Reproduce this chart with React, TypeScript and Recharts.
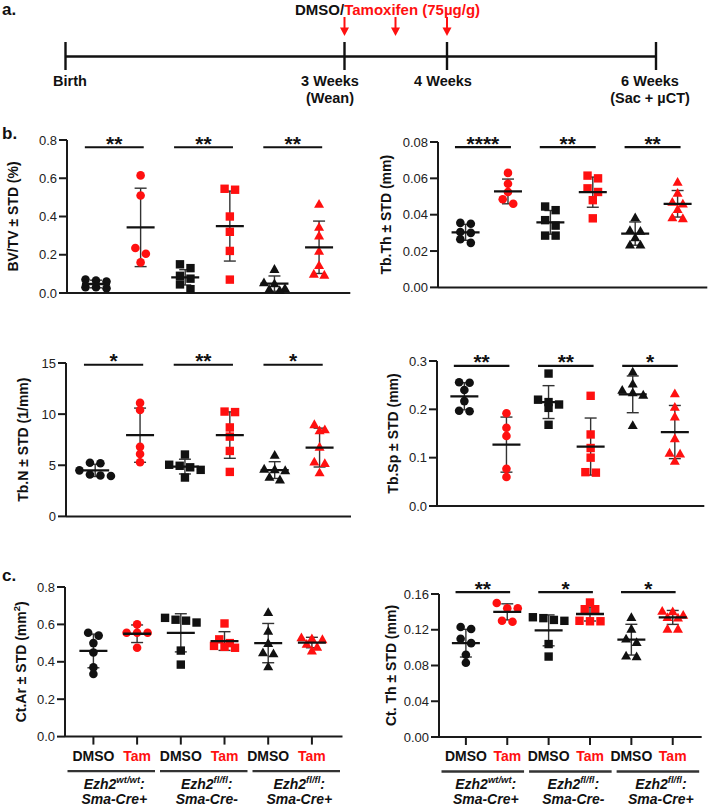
import React from 'react'
import { ScatterChart, Scatter, XAxis, YAxis, ErrorBar, ReferenceLine } from 'recharts'

const FONT = '"Liberation Sans", Arial, Helvetica, sans-serif'
const RED = '#ff1010'
const INK = '#111111'
const GREY = '#333333'

// group order: wt DMSO, wt Tam, fl/fl Cre- DMSO, fl/fl Cre- Tam, fl/fl Cre+ DMSO, fl/fl Cre+ Tam
const treatments = ['DMSO', 'Tam', 'DMSO', 'Tam', 'DMSO', 'Tam']
const genotypes = ['wt/wt', 'fl/fl', 'fl/fl']
const creLines = ['Sma-Cre+', 'Sma-Cre-', 'Sma-Cre+']
const markerKinds = ['circle', 'circle', 'square', 'square', 'triangle', 'triangle']
const markerColors = [INK, RED, INK, RED, INK, RED]

// BV/TV (%)
const bvtvGroups = [
  [0.07, 0.065, 0.06, 0.03, 0.03, 0.025],
  [0.615, 0.51, 0.235, 0.205, 0.16],
  [0.15, 0.13, 0.09, 0.075, 0.045, 0.02],
  [0.545, 0.54, 0.4, 0.32, 0.22, 0.07],
  [0.125, 0.055, 0.05, 0.025, 0.02, 0.015],
  [0.465, 0.345, 0.3, 0.22, 0.145, 0.1, 0.095],
]
const bvtvMean = [0.047, 0.343, 0.082, 0.35, 0.049, 0.239]
const bvtvSd = [0.02, 0.205, 0.04, 0.183, 0.04, 0.137]
const bvtvStars = ['**', '**', '**']

// Tb.Th (mm)
const tbthGroups = [
  [0.0355, 0.035, 0.0305, 0.03, 0.0265, 0.0245],
  [0.063, 0.057, 0.0525, 0.0485, 0.046],
  [0.0445, 0.0425, 0.037, 0.034, 0.0285, 0.0285],
  [0.0615, 0.06, 0.0545, 0.0525, 0.048, 0.038],
  [0.0385, 0.0315, 0.031, 0.0275, 0.0235, 0.0235],
  [0.058, 0.052, 0.047, 0.046, 0.043, 0.0385, 0.038],
]
const tbthMean = [0.0303, 0.0528, 0.0358, 0.0524, 0.0296, 0.046]
const tbthSd = [0.0044, 0.0068, 0.0065, 0.0083, 0.0064, 0.0073]
const tbthStars = ['****', '**', '**']

// Tb.N (1/mm)
const tbnGroups = [
  [5.25, 5.2, 4.5, 4.1, 4.0, 3.95],
  [11.1, 10.4, 6.8, 6.1, 5.3],
  [6.05, 5.05, 4.95, 4.8, 4.55, 3.8],
  [10.25, 10.2, 8.7, 7.8, 6.4, 4.35],
  [6.0, 4.65, 4.6, 4.5, 3.85, 3.6],
  [9.0, 8.5, 8.4, 6.8, 5.35, 5.2, 4.3],
]
const tbnMean = [4.5, 7.94, 4.87, 7.95, 4.53, 6.73]
const tbnSd = [0.6, 2.65, 0.72, 2.27, 0.82, 1.9]
const tbnStars = ['*', '**', '*']

// Tb.Sp (mm)
const tbspGroups = [
  [0.256, 0.255, 0.24, 0.217, 0.197, 0.196],
  [0.192, 0.162, 0.145, 0.077, 0.06],
  [0.274, 0.22, 0.215, 0.21, 0.203, 0.168],
  [0.228, 0.148, 0.12, 0.1, 0.07, 0.069],
  [0.278, 0.253, 0.24, 0.235, 0.23, 0.167],
  [0.233, 0.205, 0.185, 0.14, 0.11, 0.108, 0.093],
]
const tbspMean = [0.227, 0.127, 0.215, 0.123, 0.231, 0.153]
const tbspSd = [0.028, 0.057, 0.034, 0.059, 0.038, 0.055]
const tbspStars = ['**', '**', '*']

// Ct.Ar (mm2)
const ctarGroups = [
  [0.555, 0.54, 0.5, 0.45, 0.37, 0.335],
  [0.6, 0.555, 0.555, 0.555, 0.475],
  [0.635, 0.625, 0.62, 0.61, 0.46, 0.385],
  [0.605, 0.52, 0.5, 0.485, 0.48, 0.475],
  [0.665, 0.565, 0.5, 0.45, 0.445, 0.375],
  [0.53, 0.525, 0.52, 0.495, 0.48, 0.46],
]
const ctarMean = [0.458, 0.55, 0.555, 0.511, 0.5, 0.503]
const ctarSd = [0.09, 0.047, 0.102, 0.05, 0.105, 0.028]

// Ct.Th (mm)
const ctthGroups = [
  [0.1231, 0.1208, 0.11, 0.105, 0.092, 0.083],
  [0.15, 0.144, 0.144, 0.13, 0.129],
  [0.134, 0.133, 0.131, 0.13, 0.104, 0.09],
  [0.1505, 0.143, 0.143, 0.13, 0.1295, 0.1295],
  [0.134, 0.121, 0.11, 0.106, 0.091, 0.09],
  [0.141, 0.1405, 0.1365, 0.134, 0.1335, 0.121, 0.121],
]
const ctthMean = [0.105, 0.14, 0.1193, 0.1376, 0.1089, 0.1338]
const ctthSd = [0.0155, 0.009, 0.0173, 0.0078, 0.0172, 0.0078]
const ctthStars = ['**', '*', '*']

const X_DOMAIN: [number, number] = [0.35, 6.7]
const X_TICKS = [1, 2, 3, 4, 5, 6]
const SWARM_STEP = 10.5
const SWARM_ROW = 6

type Panel = {
  title: string
  sup?: string
  groups: number[][]
  means: number[]
  sds: number[]
  stars: string[] | null
  yMax: number
  yTicks: number[]
  digits: number
  x0: number
  x1: number
  yTop: number
  yBot: number
  titleX: number
  barY: number
  bottom: boolean
}

const panels: Panel[] = [
  { title: 'BV/TV ± STD (%)', groups: bvtvGroups, means: bvtvMean, sds: bvtvSd, stars: bvtvStars,
    yMax: 0.8, yTicks: [0, 0.2, 0.4, 0.6, 0.8], digits: 1,
    x0: 66.7, x1: 350, yTop: 140, yBot: 293, titleX: 12.5, barY: 0.762, bottom: false },
  { title: 'Tb.Th ± STD (mm)', groups: tbthGroups, means: tbthMean, sds: tbthSd, stars: tbthStars,
    yMax: 0.08, yTicks: [0, 0.02, 0.04, 0.06, 0.08], digits: 2,
    x0: 437.7, x1: 707, yTop: 142.3, yBot: 287.7, titleX: 385.5, barY: 0.0772, bottom: false },
  { title: 'Tb.N ± STD (1/mm)', groups: tbnGroups, means: tbnMean, sds: tbnSd, stars: tbnStars,
    yMax: 15, yTicks: [0, 5, 10, 15], digits: 0,
    x0: 66, x1: 351, yTop: 363.3, yBot: 516.7, titleX: 23.3, barY: 14.83, bottom: false },
  { title: 'Tb.Sp ± STD (mm)', groups: tbspGroups, means: tbspMean, sds: tbspSd, stars: tbspStars,
    yMax: 0.3, yTicks: [0, 0.1, 0.2, 0.3], digits: 1,
    x0: 436.7, x1: 704, yTop: 361, yBot: 506, titleX: 393, barY: 0.29, bottom: false },
  { title: 'Ct.Ar ± STD (mm', sup: '2', groups: ctarGroups, means: ctarMean, sds: ctarSd, stars: null,
    yMax: 0.8, yTicks: [0, 0.2, 0.4, 0.6, 0.8], digits: 1,
    x0: 64.5, x1: 342, yTop: 586.7, yBot: 736.3, titleX: 20, barY: 0, bottom: true },
  { title: 'Ct. Th ± STD (mm)', groups: ctthGroups, means: ctthMean, sds: ctthSd, stars: ctthStars,
    yMax: 0.16, yTicks: [0, 0.04, 0.08, 0.12, 0.16], digits: 2,
    x0: 439, x1: 701.7, yTop: 594.3, yBot: 737.3, titleX: 391, barY: 0.1622, bottom: true },
]

// simple beeswarm: points closer than a marker height share a row and spread sideways
function swarmOffsets(values: number[], pxPerUnit: number): number[] {
  const order = values.map((_, i) => i).sort((a, b) => values[b] - values[a])
  const out = values.map(() => 0)
  let row: number[] = []
  const place = (r: number[]) =>
    r.forEach((idx, k) => {
      out[idx] = (k - (r.length - 1) / 2) * SWARM_STEP
    })
  for (const idx of order) {
    if (row.length && (values[row[0]] - values[idx]) * pxPerUnit < SWARM_ROW) row.push(idx)
    else {
      place(row)
      row = [idx]
    }
  }
  place(row)
  return out
}

const markerShape = (kind: string, color: string) => (props: any) => {
  const { cx, cy } = props
  if (cx == null || cy == null) return <g />
  if (kind === 'circle') return <circle cx={cx} cy={cy} r={4.3} fill={color} />
  if (kind === 'square') return <rect x={cx - 4.2} y={cy - 4.2} width={8.4} height={8.4} fill={color} />
  return <polygon points={`${cx},${cy - 5} ${cx + 5},${cy + 3.8} ${cx - 5},${cy + 3.8}`} fill={color} />
}

const MeanLine = (props: any) => {
  const { cx, cy } = props
  if (cx == null || cy == null) return <g />
  return <line x1={cx - 14} x2={cx + 14} y1={cy} y2={cy} stroke={INK} strokeWidth={2.3} />
}

function GroupTick(props: any) {
  const { x, y, payload, unitPx } = props
  const i = Math.round(payload.value) - 1
  const isDmso = i % 2 === 0
  const label = (
    <text x={x} y={y + 14.5} textAnchor="middle" fontFamily={FONT} fontWeight="bold" fontSize={14}
      fill={isDmso ? INK : RED}>
      {treatments[i]}
    </text>
  )
  if (!isDmso) return <g>{label}</g>
  const g = i / 2
  const third = (X_DOMAIN[1] - X_DOMAIN[0]) / 3
  const lo = x + (X_DOMAIN[0] + g * third - (i + 1)) * unitPx + 2.5
  const hi = lo + third * unitPx - 5
  const mid = (lo + hi) / 2 + 3
  return (
    <g>
      {label}
      <line x1={lo} x2={hi} y1={y + 24.5} y2={y + 24.5} stroke={GREY} strokeWidth={2.4} />
      <text x={mid} y={y + 42} textAnchor="middle" fontFamily={FONT} fontWeight="bold" fontStyle="italic"
        fontSize={14} fill={INK}>
        Ezh2
        <tspan fontSize={9.5} dy={-6}>{genotypes[g]}</tspan>
        <tspan dy={6}>:</tspan>
      </text>
      <text x={mid} y={y + 57.5} textAnchor="middle" fontFamily={FONT} fontWeight="bold" fontStyle="italic"
        fontSize={14} fill={INK}>
        {creLines[g]}
      </text>
    </g>
  )
}

function ScatterPanel({ p }: { p: Panel }) {
  const YW = 72
  const MT = 30
  const MR = 6
  const XH = p.bottom ? 72 : 14
  const plotW = p.x1 - p.x0
  const plotH = p.yBot - p.yTop
  const unitPx = plotW / (X_DOMAIN[1] - X_DOMAIN[0])
  const pxPerY = plotH / p.yMax
  const width = plotW + YW + MR
  const height = plotH + MT + XH
  const summary = p.means.map((m, g) => ({ x: g + 1, y: m, err: p.sds[g] }))
  const axisStyle = { stroke: '#1a1a1a', strokeWidth: 2 }

  const titleContent = (lp: any) => {
    const vb = lp.viewBox || { x: 0, y: MT, width: YW, height: plotH }
    const bx = vb.x + (p.titleX - (p.x0 - YW)) + 5
    const cy = vb.y + vb.height / 2
    return (
      <text transform={`translate(${bx},${cy}) rotate(-90)`} textAnchor="middle" fontFamily={FONT}
        fontWeight="bold" fontSize={14} fill={INK}>
        {p.title}
        {p.sup && (
          <>
            <tspan fontSize={9.5} dy={-6}>{p.sup}</tspan>
            <tspan dy={6}>)</tspan>
          </>
        )}
      </text>
    )
  }

  return (
    <div style={{ position: 'absolute', left: p.x0 - YW, top: p.yTop - MT, width, height }}>
      <ScatterChart width={width} height={height} margin={{ top: MT, right: MR, left: 0, bottom: 0 }}>
        <XAxis type="number" dataKey="x" domain={X_DOMAIN} ticks={X_TICKS} allowDataOverflow interval={0}
          height={XH} axisLine={axisStyle} tickLine={axisStyle} tickSize={8}
          tick={p.bottom ? (t: any) => <GroupTick {...t} unitPx={unitPx} /> : false} />
        <YAxis type="number" dataKey="y" domain={[0, p.yMax]} ticks={p.yTicks} interval={0} width={YW}
          axisLine={axisStyle} tickLine={axisStyle} tickSize={8}
          tick={{ fontSize: 13, fill: '#222', fontFamily: FONT }}
          tickFormatter={(v: number) => v.toFixed(p.digits)}
          label={{ content: titleContent }} />
        {p.groups.map((vals, g) => {
          const offs = swarmOffsets(vals, pxPerY)
          const data = vals.map((v, k) => ({ x: g + 1 + offs[k] / unitPx, y: v }))
          return (
            <Scatter key={g} data={data} shape={markerShape(markerKinds[g], markerColors[g])}
              isAnimationActive={false} />
          )
        })}
        <Scatter data={summary} shape={MeanLine} isAnimationActive={false}>
          <ErrorBar dataKey="err" direction="y" width={6} stroke={GREY} strokeWidth={1.4}
            isAnimationActive={false} />
        </Scatter>
        {p.stars &&
          p.stars.map((s, k) => (
            <ReferenceLine key={k} ifOverflow="visible" stroke={INK} strokeWidth={2.2}
              segment={[{ x: 2 * k + 1 - 0.25, y: p.barY }, { x: 2 * k + 2 + 0.07, y: p.barY }]}
              label={{
                content: (lp: any) => {
                  const vb = lp.viewBox || { x: 0, y: 0, width: 0 }
                  return (
                    <text x={vb.x + (vb.width || 0) / 2} y={vb.y + 3.5} textAnchor="middle" fontFamily={FONT}
                      fontWeight="bold" fontSize={21} fill={INK}>
                      {s}
                    </text>
                  )
                },
              }} />
          ))}
      </ScatterChart>
    </div>
  )
}

// timeline (panel a) layout
const timelineMarks = [
  { label: 'Birth', sub: '', at: 65.5, textAt: 70 },
  { label: '3 Weeks', sub: '(Wean)', at: 344.5, textAt: 330 },
  { label: '4 Weeks', sub: '', at: 447, textAt: 443 },
  { label: '6 Weeks', sub: '(Sac + µCT)', at: 656, textAt: 650 },
]
const injectionArrows = [344.5, 395.5, 447]

function Timeline() {
  const lineY = 56.5
  return (
    <svg width={709} height={110} style={{ position: 'absolute', left: 0, top: 0 }} fontFamily={FONT}>
      <text x={2} y={15} fontSize={17} fontWeight="bold" fill={INK}>a.</text>
      <text x={295} y={14.5} fontSize={15} fontWeight="bold" fill={INK}>
        DMSO/<tspan fill={RED}>Tamoxifen (75µg/g)</tspan>
      </text>
      {injectionArrows.map((ax) => (
        <g key={ax}>
          <line x1={ax} x2={ax} y1={17} y2={29} stroke={RED} strokeWidth={2} />
          <polygon points={`${ax - 4.5},${27.5} ${ax + 4.5},${27.5} ${ax},${36}`} fill={RED} />
        </g>
      ))}
      <line x1={timelineMarks[0].at} x2={timelineMarks[3].at} y1={lineY} y2={lineY} stroke={INK} strokeWidth={2.6} />
      {timelineMarks.map((m) => (
        <g key={m.label}>
          <line x1={m.at} x2={m.at} y1={42} y2={70} stroke={INK} strokeWidth={2.4} />
          <text x={m.textAt} y={86} textAnchor="middle" fontSize={14.5} fontWeight="bold" fill={INK}>{m.label}</text>
          {m.sub && (
            <text x={m.textAt} y={102.5} textAnchor="middle" fontSize={14.5} fontWeight="bold" fill={INK}>{m.sub}</text>
          )}
        </g>
      ))}
    </svg>
  )
}

export default function App() {
  return (
    <div style={{ position: 'absolute', left: 0, top: 0, width: 709, height: 810, overflow: 'hidden',
      background: '#fff', fontFamily: FONT }}>
      <Timeline />
      <div style={{ position: 'absolute', left: 2, top: 124, fontSize: 17, fontWeight: 'bold', color: INK }}>b.</div>
      <div style={{ position: 'absolute', left: 2, top: 566, fontSize: 17, fontWeight: 'bold', color: INK }}>c.</div>
      {panels.map((p) => (
        <ScatterPanel key={p.title} p={p} />
      ))}
    </div>
  )
}
